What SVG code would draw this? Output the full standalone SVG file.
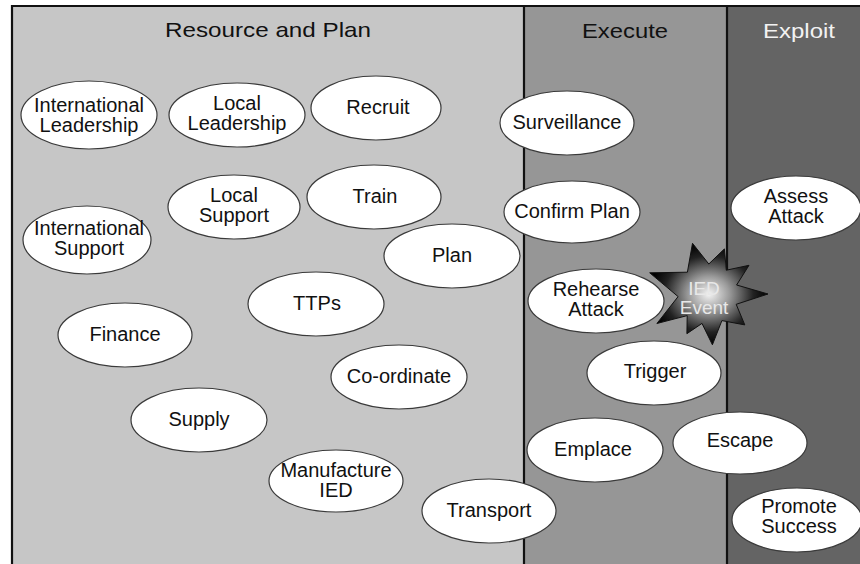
<svg xmlns="http://www.w3.org/2000/svg" width="860" height="564" viewBox="0 0 860 564">
<defs>
<style>
.node ellipse{fill:#ffffff;stroke:#3a3a3a;stroke-width:1.2}
.node text{font-family:"Liberation Sans",Arial,sans-serif;font-size:20px;fill:#111;text-anchor:middle}
.title{font-family:"Liberation Sans",Arial,sans-serif;font-size:21px;text-anchor:middle}
.divider{stroke:#111;stroke-width:2.2}
</style>
<radialGradient id="starGrad" cx="0.5" cy="0.5" r="0.5">
<stop offset="0" stop-color="#f4f4f4"/>
<stop offset="0.35" stop-color="#9a9a9a"/>
<stop offset="0.75" stop-color="#222"/>
<stop offset="1" stop-color="#000"/>
</radialGradient>
</defs>
<rect width="860" height="564" fill="#ffffff"/>
<g id="panels">
<rect x="12" y="6" width="512" height="560" fill="#c6c6c6"/>
<rect x="524" y="6" width="203" height="560" fill="#969696"/>
<rect x="727" y="6" width="140" height="560" fill="#646464"/>
<line class="divider" x1="11" y1="6" x2="860" y2="6"/>
<line class="divider" x1="12" y1="5" x2="12" y2="564"/>
<line class="divider" x1="524" y1="6" x2="524" y2="564"/>
<line class="divider" x1="727" y1="6" x2="727" y2="564"/>
<text class="title" x="268" y="37" fill="#111" textLength="206" lengthAdjust="spacingAndGlyphs">Resource and Plan</text>
<text class="title" x="625" y="38" fill="#111" textLength="86" lengthAdjust="spacingAndGlyphs">Execute</text>
<text class="title" x="799" y="38" fill="#f2f2f2" textLength="72" lengthAdjust="spacingAndGlyphs">Exploit</text>
</g>
<g id="connectors"/>
<g id="n-intl-leadership" class="node"><ellipse cx="89" cy="115" rx="68" ry="34"/><text x="89" y="112">International</text><text x="89" y="132">Leadership</text></g>
<g id="n-local-leadership" class="node"><ellipse cx="237" cy="115" rx="68" ry="32"/><text x="237" y="110">Local</text><text x="237" y="130">Leadership</text></g>
<g id="n-recruit" class="node"><ellipse cx="376" cy="108" rx="65" ry="32"/><text x="378" y="114">Recruit</text></g>
<g id="n-surveillance" class="node"><ellipse cx="567" cy="123" rx="67" ry="32"/><text x="567" y="129">Surveillance</text></g>
<g id="n-local-support" class="node"><ellipse cx="234" cy="207" rx="66" ry="32"/><text x="234" y="202">Local</text><text x="234" y="222">Support</text></g>
<g id="n-train" class="node"><ellipse cx="374" cy="197" rx="67" ry="32"/><text x="375" y="203">Train</text></g>
<g id="n-intl-support" class="node"><ellipse cx="87" cy="240" rx="64" ry="34"/><text x="89" y="235">International</text><text x="89" y="255">Support</text></g>
<g id="n-confirm-plan" class="node"><ellipse cx="572" cy="212" rx="68" ry="31"/><text x="572" y="218">Confirm Plan</text></g>
<g id="n-plan" class="node"><ellipse cx="452" cy="256" rx="68" ry="32"/><text x="452" y="262">Plan</text></g>
<g id="n-assess-attack" class="node"><ellipse cx="796" cy="208" rx="65" ry="32"/><text x="796" y="203">Assess</text><text x="796" y="223">Attack</text></g>
<g id="n-ttps" class="node"><ellipse cx="316" cy="304" rx="68" ry="32"/><text x="317" y="310">TTPs</text></g>
<g id="n-rehearse-attack" class="node"><ellipse cx="596" cy="301" rx="68" ry="32"/><text x="596" y="296">Rehearse</text><text x="596" y="316">Attack</text></g>
<g id="n-ied-event">
<polygon points="768,294 736.2,304.3 744.8,324.9 721.9,320.6 712.4,344.8 702,323.4 686.9,333.7 687.2,315.6 656.9,323.5 678.1,296.6 649.7,272.8 687.4,272.2 692.5,243.3 708.8,264 724.4,248.9 726.3,270.2 749,265.3 736.6,285" fill="url(#starGrad)" stroke="#111" stroke-width="1"/>
<text x="704" y="295" font-family="Liberation Sans,Arial,sans-serif" font-size="19" fill="#e8e8e8" text-anchor="middle">IED</text>
<text x="704" y="314" font-family="Liberation Sans,Arial,sans-serif" font-size="19" fill="#e8e8e8" text-anchor="middle">Event</text>
</g>
<g id="n-finance" class="node"><ellipse cx="125" cy="335" rx="67" ry="32"/><text x="125" y="341">Finance</text></g>
<g id="n-trigger" class="node"><ellipse cx="654" cy="373" rx="67" ry="32"/><text x="655" y="378">Trigger</text></g>
<g id="n-coordinate" class="node"><ellipse cx="399" cy="377" rx="68" ry="32"/><text x="399" y="383">Co-ordinate</text></g>
<g id="n-supply" class="node"><ellipse cx="199" cy="420" rx="68" ry="32"/><text x="199" y="426">Supply</text></g>
<g id="n-emplace" class="node"><ellipse cx="595" cy="450" rx="68" ry="32"/><text x="593" y="456">Emplace</text></g>
<g id="n-escape" class="node"><ellipse cx="740" cy="443" rx="67" ry="31"/><text x="740" y="447">Escape</text></g>
<g id="n-manufacture-ied" class="node"><ellipse cx="336" cy="481" rx="67" ry="31"/><text x="336" y="477">Manufacture</text><text x="336" y="497">IED</text></g>
<g id="n-transport" class="node"><ellipse cx="489" cy="511" rx="67" ry="32"/><text x="489" y="517">Transport</text></g>
<g id="n-promote-success" class="node"><ellipse cx="797" cy="520" rx="65" ry="32"/><text x="799" y="513">Promote</text><text x="799" y="533">Success</text></g>
</svg>
